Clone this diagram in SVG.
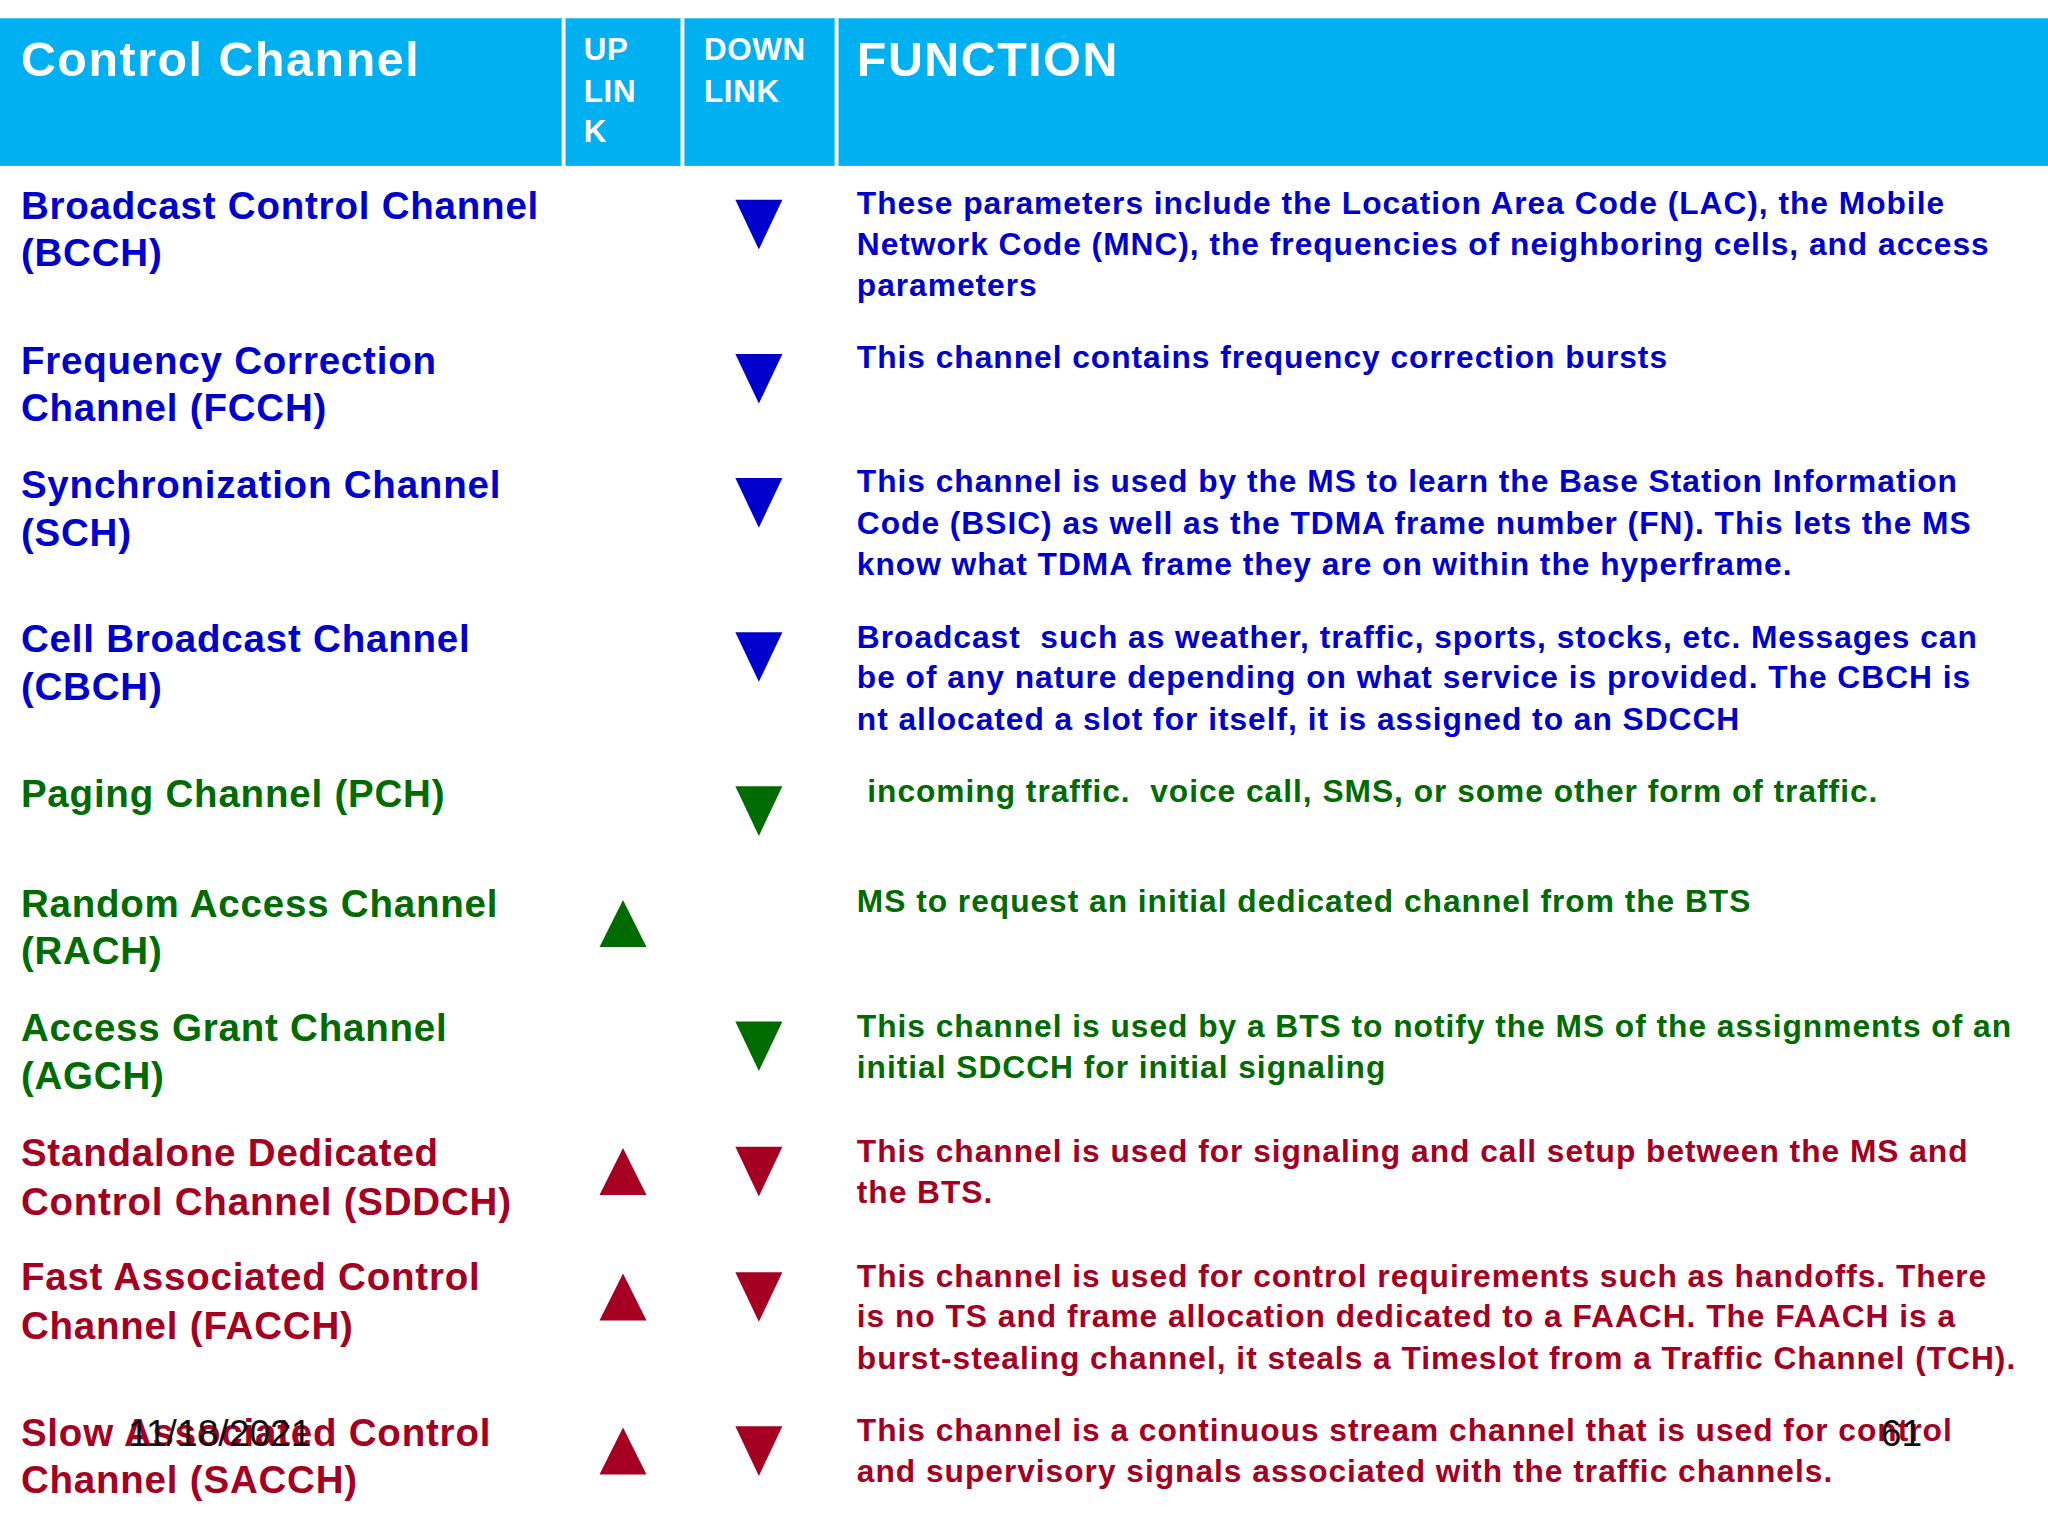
<svg xmlns="http://www.w3.org/2000/svg" width="2048" height="1536" viewBox="0 0 2048 1536">
<style>
text{font-family:"Liberation Sans",Arial,sans-serif;font-weight:bold}
.h{fill:#fff;font-size:37px;letter-spacing:1.2px}
.hs{fill:#fff;font-size:24px;letter-spacing:0.5px}
.n{font-size:29.5px;letter-spacing:0.6px}
.f{font-size:24.3px;letter-spacing:0.75px}
.b{fill:#0000CC}.g{fill:#006B00}.r{fill:#A50021}
.ft{font-weight:normal;font-size:28.5px;fill:#111}
</style>
<defs>
<path id="dn" d="M-18,-19 L18,-19 L0,19Z"/>
<path id="up" d="M-18,18 L18,18 L0,-18Z"/>
</defs>
<rect width="2048" height="1536" fill="#fff"/>
<g transform="scale(1.30612)">
<g id="header">
<rect x="0" y="14" width="1568" height="113" fill="#00B0F0"/>
<rect x="430" y="14" width="3" height="113" fill="#fff"/>
<rect x="521" y="14" width="3" height="113" fill="#fff"/>
<rect x="639" y="14" width="3" height="113" fill="#fff"/>
<text class="h" x="16" y="58">Control Channel</text>
<text class="hs" x="447" y="46">UP</text><text class="hs" x="447" y="78">LIN</text><text class="hs" x="447" y="109">K</text>
<text class="hs" x="539" y="46">DOWN</text><text class="hs" x="539" y="78">LINK</text>
<text class="h" x="656" y="58">FUNCTION</text>
</g>
<g id="bcch" class="b">
<text class="n" x="16" y="168">Broadcast Control Channel</text><text class="n" x="16" y="204">(BCCH)</text>
<use href="#dn" x="581" y="172"/>
<text class="f" x="656" y="164">These parameters include the Location Area Code (LAC), the Mobile</text>
<text class="f" x="656" y="195">Network Code (MNC), the frequencies of neighboring cells, and access</text>
<text class="f" x="656" y="227">parameters</text>
</g>
<g id="fcch" class="b">
<text class="n" x="16" y="286">Frequency Correction</text><text class="n" x="16" y="322">Channel (FCCH)</text>
<use href="#dn" x="581" y="290"/>
<text class="f" x="656" y="282">This channel contains frequency correction bursts</text>
</g>
<g id="sch" class="b">
<text class="n" x="16" y="381">Synchronization Channel</text><text class="n" x="16" y="418">(SCH)</text>
<use href="#dn" x="581" y="385"/>
<text class="f" x="656" y="377">This channel is used by the MS to learn the Base Station Information</text>
<text class="f" x="656" y="409">Code (BSIC) as well as the TDMA frame number (FN). This lets the MS</text>
<text class="f" x="656" y="440">know what TDMA frame they are on within the hyperframe.</text>
</g>
<g id="cbch" class="b">
<text class="n" x="16" y="499">Cell Broadcast Channel</text><text class="n" x="16" y="536">(CBCH)</text>
<use href="#dn" x="581" y="503"/>
<text class="f" x="656" y="496" xml:space="preserve">Broadcast  such as weather, traffic, sports, stocks, etc. Messages can</text>
<text class="f" x="656" y="527">be of any nature depending on what service is provided. The CBCH is</text>
<text class="f" x="656" y="559">nt allocated a slot for itself, it is assigned to an SDCCH</text>
</g>
<g id="pch" class="g">
<text class="n" x="16" y="618">Paging Channel (PCH)</text>
<use href="#dn" x="581" y="621"/>
<text class="f" x="664" y="614" xml:space="preserve">incoming traffic.  voice call, SMS, or some other form of traffic.</text>
</g>
<g id="rach" class="g">
<text class="n" x="16" y="702">Random Access Channel</text><text class="n" x="16" y="738">(RACH)</text>
<use href="#up" x="477" y="707"/>
<text class="f" x="656" y="698">MS to request an initial dedicated channel from the BTS</text>
</g>
<g id="agch" class="g">
<text class="n" x="16" y="797">Access Grant Channel</text><text class="n" x="16" y="834">(AGCH)</text>
<use href="#dn" x="581" y="801"/>
<text class="f" x="656" y="794">This channel is used by a BTS to notify the MS of the assignments of an</text>
<text class="f" x="656" y="825">initial SDCCH for initial signaling</text>
</g>
<g id="sdcch" class="r">
<text class="n" x="16" y="893">Standalone Dedicated</text><text class="n" x="16" y="930">Control Channel (SDDCH)</text>
<use href="#up" x="477" y="897"/>
<use href="#dn" x="581" y="897"/>
<text class="f" x="656" y="890">This channel is used for signaling and call setup between the MS and</text>
<text class="f" x="656" y="921">the BTS.</text>
</g>
<g id="facch" class="r">
<text class="n" x="16" y="988">Fast Associated Control</text><text class="n" x="16" y="1025">Channel (FACCH)</text>
<use href="#up" x="477" y="993"/>
<use href="#dn" x="581" y="993"/>
<text class="f" x="656" y="985">This channel is used for control requirements such as handoffs. There</text>
<text class="f" x="656" y="1016">is no TS and frame allocation dedicated to a FAACH. The FAACH is a</text>
<text class="f" x="656" y="1048">burst-stealing channel, it steals a Timeslot from a Traffic Channel (TCH).</text>
</g>
<g id="sacch" class="r">
<text class="n" x="16" y="1107">Slow Associated Control</text><text class="n" x="16" y="1143">Channel (SACCH)</text>
<use href="#up" x="477" y="1111"/>
<use href="#dn" x="581" y="1111"/>
<text class="f" x="656" y="1103">This channel is a continuous stream channel that is used for control</text>
<text class="f" x="656" y="1135">and supervisory signals associated with the traffic channels.</text>
</g>
<g id="footer">
<text class="ft" x="98" y="1107">11/18/2021</text>
<text class="ft" x="1440" y="1107">61</text>
</g>
</g>
<g id="connectors"/>
</svg>
